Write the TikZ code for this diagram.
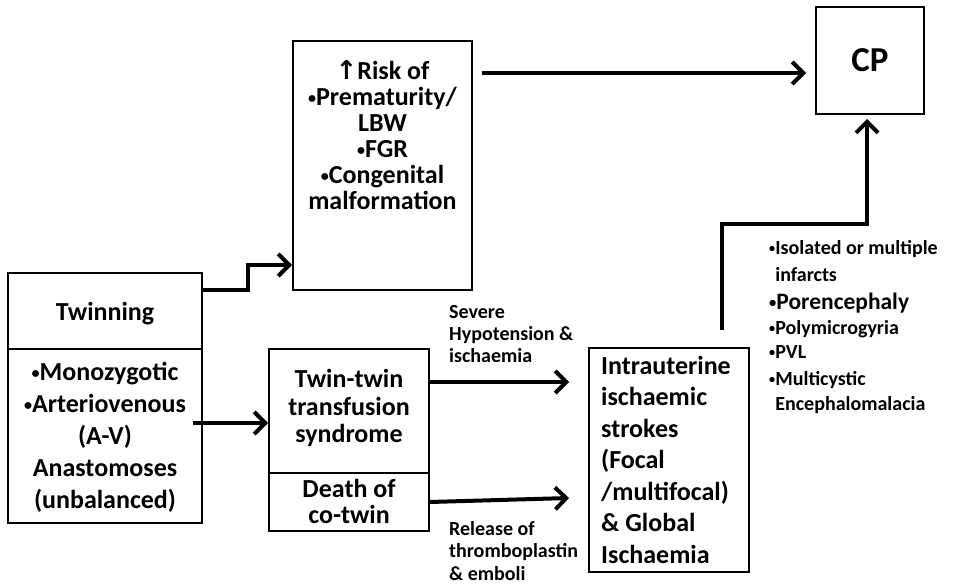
\documentclass[tikz,border=0pt]{standalone}
\usepackage{fontspec}
\usepackage{graphicx}
\setmainfont{Carlito}
\newfontfamily\symfont{DejaVu Sans}
\usetikzlibrary{arrows.meta,calc}
\newcommand\bul{\raisebox{.1em}{\scalebox{.62}{•}}}
\newcommand\ctab[3]{\vtop{\fontsize{#1}{#2}\selectfont\lineskiplimit=-1000pt\relax\halign{\hfil##\hfil\cr#3\crcr}}}
\newcommand\ltab[3]{\vtop{\fontsize{#1}{#2}\selectfont\lineskiplimit=-1000pt\relax\halign{##\hfil\cr#3\crcr}}}
\begin{document}
\begin{tikzpicture}[x=1pt,y=-1pt,
  box/.style={draw, line width=2pt, inner sep=0pt},
  txt/.style={inner sep=0pt, anchor=base, font=\bfseries},
  ltxt/.style={inner sep=0pt, anchor=base west, font=\bfseries},
  arr/.style={line width=4pt, -{Straight Barb[length=11pt,width=22pt]}},
  divider/.style={line width=2pt}]
\path[use as bounding box, fill=white] (0,0) rectangle (959,585);

% boxes
\node[box, minimum width=194pt, minimum height=250pt] (twin) at (105,398) {};
\node[box, minimum width=179pt, minimum height=249pt] (risk) at (382.5,165.5) {};
\node[box, minimum width=108pt, minimum height=107pt] (cp) at (870,60.5) {};
\node[box, minimum width=160pt, minimum height=182pt] (ttts) at (349,440) {};
\node[box, minimum width=160pt, minimum height=224pt] (intra) at (669,460) {};

% dividers
\coordinate (d1) at (0,349);
\coordinate (d2) at (0,473);
\draw[divider] (twin.west |- d1) -- (twin.east |- d1);
\draw[divider] (ttts.west |- d2) -- (ttts.east |- d2);

% texts
\node[txt] (t1) at (105,321) {\ctab{26}{32}{Twinning}};
\node[txt] (t2) at (105,381) {\ctab{26}{31.8}{\bul Monozygotic\cr \bul Arteriovenous\cr (A-V)\cr Anastomoses\cr (unbalanced)}};
\node[txt] (t3) at (382.5,80) {\ctab{26}{26}{{\symfont\bfseries ↑}Risk of\cr \bul Prematurity/\cr LBW\cr \bul FGR\cr \bul Congenital\cr malformation}};
\node[txt] (t4) at (870,72) {\ctab{35}{40}{CP}};
\node[txt] (t5) at (349,388) {\ctab{26}{27.5}{Twin-twin\cr transfusion\cr syndrome}};
\node[txt] (t6) at (349,497) {\ctab{26}{26}{Death of\cr co-twin}};
\node[ltxt] (t7) at (601,374) {\ltab{26}{31.6}{Intrauterine\cr ischaemic\cr strokes\cr (Focal\cr /multifocal)\cr \& Global\cr Ischaemia}};
\node[ltxt] (t8) at (449,319) {\ltab{20}{22}{Severe\cr Hypotension \&\cr ischaemia}};
\node[ltxt] (t9) at (449,535) {\ltab{20}{22.5}{Release of\cr thromboplastin\cr \& emboli}};

% right list
\node[ltxt, font=\bfseries\fontsize{20}{24}\selectfont] (r1) at (769,255) {\bul Isolated or multiple};
\node[ltxt, font=\bfseries\fontsize{20}{24}\selectfont] (r2) at (769,282) {\phantom{\bul}infarcts};
\node[ltxt, font=\bfseries\fontsize{23.5}{28}\selectfont] (r3) at (769,310) {\bul Porencephaly};
\node[ltxt, font=\bfseries\fontsize{20}{24}\selectfont] (r4) at (769,335) {\bul Polymicrogyria};
\node[ltxt, font=\bfseries\fontsize{20}{24}\selectfont] (r5) at (769,359) {\bul PVL};
\node[ltxt, font=\bfseries\fontsize{20}{24}\selectfont] (r6) at (769,385) {\bul Multicystic};
\node[ltxt, font=\bfseries\fontsize{20}{24}\selectfont] (r7) at (769,410) {\phantom{\bul}Encephalomalacia};

% connectors
\coordinate (k1) at (248,290);
\coordinate (k2) at (248,265);
\draw[arr] (twin.east |- k1) -- (k1) -- (k2) -- (risk.west |- k2);

\coordinate (k3) at (0,73);
\draw[arr] ($(risk.east |- k3)+(9,0)$) -- ($(cp.west |- k3)+(-9,0)$);

\coordinate (k4) at (193,423);
\draw[arr] (k4) -- (ttts.west |- k4);

\coordinate (k5) at (0,382);
\draw[arr] (ttts.east |- k5) -- ($(intra.west |- k5)+(-19,0)$);

\coordinate (k6) at (0,502);
\coordinate (k7) at (0,498);
\draw[arr] (ttts.east |- k6) -- ($(intra.west |- k7)+(-19,0)$);

\coordinate (k8) at ($(intra.north)+(53,-17)$);
\coordinate (k9) at (722,224);
\coordinate (k10) at (867,224);
\draw[arr] (k8) -- (k9) -- (k10) -- ($(cp.south -| k10)+(0,4)$);
\end{tikzpicture}
\end{document}
